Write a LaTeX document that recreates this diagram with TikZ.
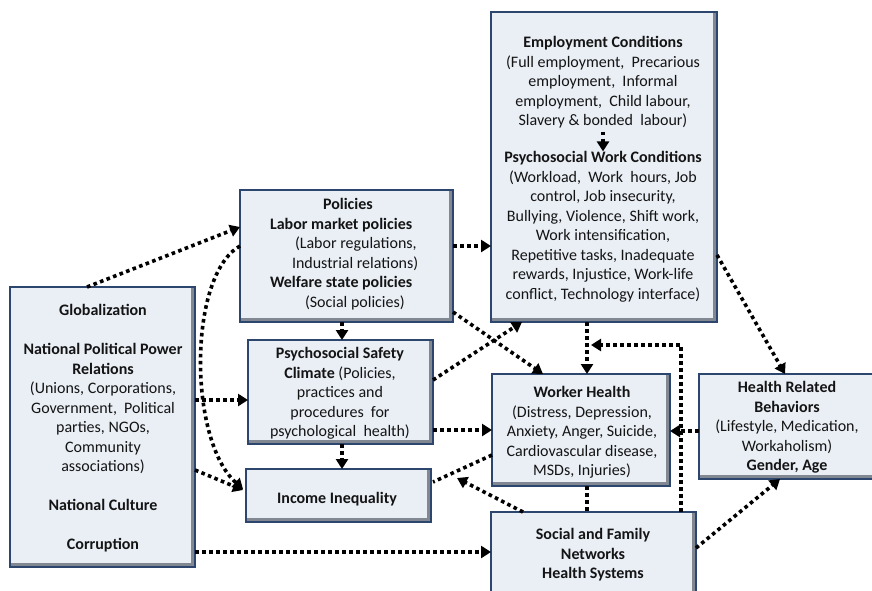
\documentclass[tikz,border=0pt]{standalone}
\usepackage{fontspec}
\setmainfont{Carlito}
\usetikzlibrary{arrows.meta,calc}
\definecolor{boxfill}{RGB}{234,239,246}
\definecolor{boxline}{RGB}{45,70,110}
\definecolor{shadecol}{RGB}{130,136,146}
\definecolor{ink}{RGB}{20,20,20}
\tikzset{
 box/.style={draw=boxline, fill=boxfill, line width=2pt, inner sep=0pt, outer sep=0pt, anchor=north west,
   path picture={\draw[shadecol, line width=3pt] ([xshift=-2.5pt]path picture bounding box.north east) -- ([xshift=-2.5pt,yshift=2.5pt]path picture bounding box.south east) -- ([yshift=2.5pt]path picture bounding box.south west);}},
 txt/.style={font=\fontsize{16}{19.5}\selectfont, text=ink, inner sep=0pt, outer sep=0pt, anchor=north, align=center, execute at begin node=\strut, execute at end node=\strut},
 arr/.style={draw=black, line width=3.6pt, dash pattern=on 3.6pt off 3.4pt, -{Triangle[length=10pt,width=12pt]}},
 lnk/.style={draw=black, line width=3.6pt, dash pattern=on 3.6pt off 3.4pt},
}
\begin{document}
\begin{tikzpicture}[x=1pt,y=-1pt]
\useasboundingbox[fill=white] (0,0) rectangle (872,590);
% boxes
\node[box, minimum width=185pt, minimum height=280pt] (glob) at (10,287) {};
\node[box, minimum width=213pt, minimum height=132pt] (pol) at (240,190) {};
\node[box, minimum width=185pt, minimum height=104pt] (psc) at (248,340) {};
\node[box, minimum width=185pt, minimum height=53pt] (inc) at (246,469) {};
\node[box, minimum width=226pt, minimum height=310pt] (emp) at (491,12) {};
\node[box, minimum width=178pt, minimum height=112pt] (wh) at (492,374) {};
\node[box, minimum width=178pt, minimum height=105pt] (hrb) at (699,374) {};
\node[box, minimum width=205pt, minimum height=92pt] (soc) at (491,512) {};
% texts
\node[txt] (globt) at (103,304.3) {\textbf{Globalization}\\[19.5pt]\textbf{National Political Power}\\\textbf{Relations}\\(Unions, Corporations,\\Government,~ Political\\parties, NGOs,\\Community\\associations)\\[19.5pt]\textbf{National Culture}\\[19.5pt]\textbf{Corruption}};
\node[txt, anchor=north west, align=left] (polt) at (270,198.4) {\hspace*{53pt}\textbf{Policies}\\\textbf{Labor market policies}\\\hspace*{25pt}(Labor regulations,\\\hspace*{22pt}Industrial relations)\\\textbf{Welfare state policies}\\\hspace*{35pt}(Social policies)};
\node[txt] (psct) at (340,347.4) {\textbf{Psychosocial Safety}\\\textbf{Climate} (Policies,\\practices and\\procedures~ for\\psychological~ health)};
\node[txt] (inct) at (337,489.4) {\textbf{Income Inequality}};
\node[txt] (empa) at (603,36.4) {\textbf{Employment Conditions}\\(Full employment,~ Precarious\\employment,~ Informal\\employment,~ Child labour,\\Slavery \& bonded~ labour)};
\node[txt] (empb) at (603,151.4) {\textbf{Psychosocial Work Conditions}\\(Workload,~ Work~ hours, Job\\control, Job insecurity,\\Bullying, Violence, Shift work,\\Work intensification,\\Repetitive tasks, Inadequate\\rewards, Injustice, Work-life\\conflict, Technology interface)};
\node[txt] (wht) at (582,386.4) {\textbf{Worker Health}\\(Distress, Depression,\\Anxiety, Anger, Suicide,\\Cardiovascular disease,\\MSDs, Injuries)};
\node[txt] (hrbt) at (787,381.4) {\textbf{Health Related}\\\textbf{Behaviors}\\(Lifestyle, Medication,\\Workaholism)\\\textbf{Gender, Age}};
\node[txt] (soct) at (593,528.4) {\textbf{Social and Family}\\\textbf{Networks}\\\textbf{Health Systems}};
% internal arrow
\draw[arr] (empa.south) -- (empb.north);
% connectors
\draw[arr] ($(glob.north west)+(77,0)$) -- ($(pol.north west)+(0,37)$);
\draw[arr] ($(pol.north west)+(0,56)$) .. controls ($(pol.north west)+(-52,85)$) and ($(inc.north west)+(-58,-29)$) .. ($(inc.north west)+(-3,20)$);
\coordinate (g1) at ($(glob.north east)+(0,113)$);
\draw[arr] (g1) -- (g1 -| psc.west);
\draw[arr] ($(glob.north east)+(0,183)$) -- ($(inc.north west)+(-3,21)$);
\coordinate (g3) at ($(glob.north east)+(0,265)$);
\draw[arr] (g3) -- (g3 -| soc.west);
\coordinate (p1) at ($(pol.south west)+(102,0)$);
\draw[arr] (p1) -- (p1 |- psc.north);
\coordinate (s1) at ($(psc.south west)+(94,0)$);
\draw[arr] (s1) -- (s1 |- inc.north);
\coordinate (p2) at ($(pol.north east)+(0,56)$);
\draw[arr] (p2) -- (p2 -| emp.west);
\draw[arr] ($(pol.north east)+(0,122)$) -- ($(wh.north west)+(51,0)$);
\draw[arr] ($(psc.north east)+(0,40)$) -- ($(emp.south west)+(31,0)$);
\coordinate (s2) at ($(psc.north east)+(0,90)$);
\draw[arr] (s2) -- (s2 -| wh.west);
\draw[lnk] ($(wh.north west)+(0,81)$) -- ($(inc.north east)+(2,13)$);
\coordinate (incin) at ($(inc.north east)+(26,9)$);
\draw[arr] ($(soc.north west)+(32,0)$) -- (incin);
\coordinate (e1) at ($(emp.south west)+(96,0)$);
\draw[arr] (e1) -- (e1 |- wh.north);
\coordinate (join) at ($(emp.south west)+(100,23)$);
\draw[arr] ($(soc.north west)+(190,0)$) |- (join);
\coordinate (h1) at ($(hrb.north west)+(0,57)$);
\draw[arr] (h1) -- (h1 -| wh.east);
\draw[arr] ($(emp.north east)+(0,243)$) -- ($(hrb.north west)+(86,0)$);
\draw[arr] ($(soc.north east)+(0,36)$) -- ($(hrb.south west)+(81,0)$);
\coordinate (w1) at ($(wh.south west)+(95,0)$);
\draw[lnk] (w1) -- (w1 |- soc.north);
\end{tikzpicture}
\end{document}
